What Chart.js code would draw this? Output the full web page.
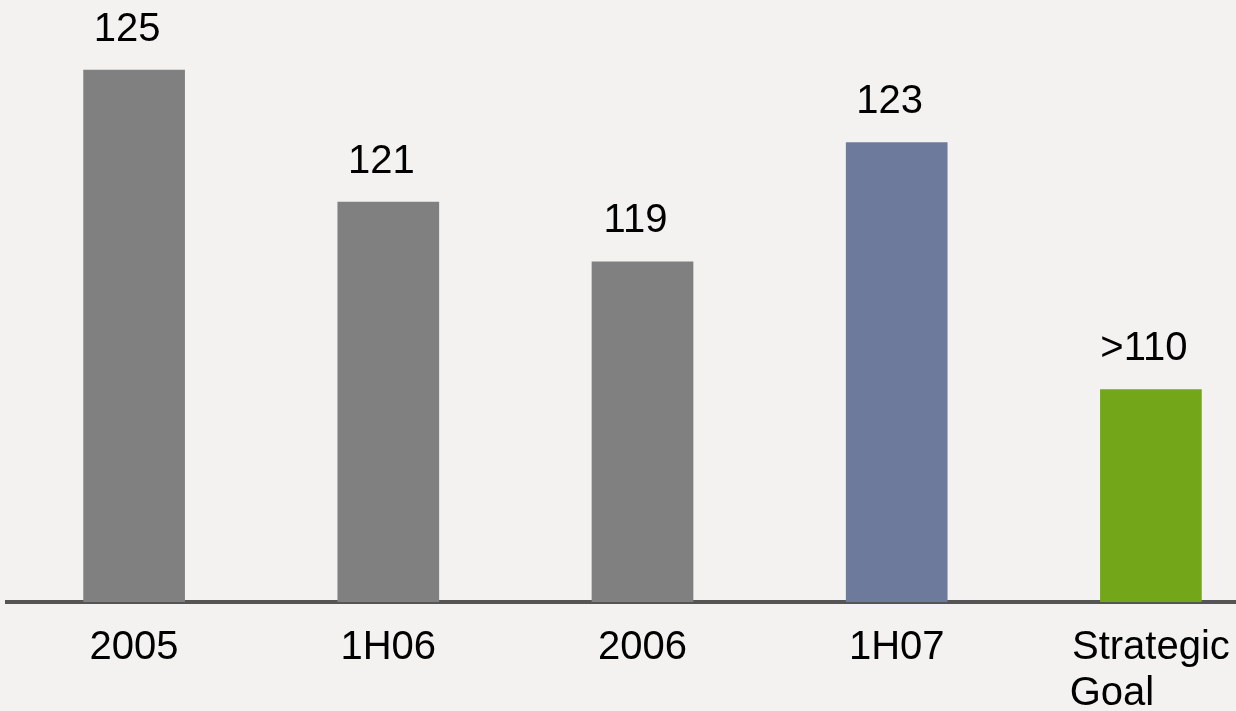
<!DOCTYPE html>
<html>
<head>
<meta charset="utf-8">
<script src="https://cdn.jsdelivr.net/npm/chart.js@4"></script>
<style>
  html, body { margin: 0; padding: 0; background: #f3f2f0; overflow: hidden; }
  canvas { display: block; }
</style>
</head>
<body>
<canvas id="ratioChart" width="1278" height="711"></canvas>
<script>
// categories along the x axis (second label is two lines, padded so "Goal" sits left)
const categories = ['2005', '1H06', '2006', '1H07', ['Strategic', 'Goal       ']];
// printed values above the bars
const valueLabels = ['125', '121', '119', '123', '>110'];
// bar heights as drawn in the picture (the original is not to scale)
const barValues = [125, 118.8, 116.0, 121.6, 110.0];
const barColors = ['#808080', '#808080', '#808080', '#6e7a9c', '#74a61a'];

const fontFamily = "'Liberation Sans', Arial, sans-serif";

// draws the value text above each bar
const valueLabelPlugin = {
    id: 'valueLabels',
    afterDatasetsDraw(chart) {
        const ctx = chart.ctx;
        const meta = chart.getDatasetMeta(0);
        ctx.save();
        ctx.font = '40px ' + fontFamily;
        ctx.fillStyle = '#000';
        ctx.textAlign = 'center';
        ctx.textBaseline = 'alphabetic';
        meta.data.forEach((bar, i) => {
            ctx.fillText(valueLabels[i], bar.x - 7, bar.y - 29);
        });
        ctx.restore();
    }
};

const ctx = document.getElementById('ratioChart').getContext('2d');
const ratioChart = new Chart(ctx, {
    type: 'bar',
    data: {
        labels: categories,
        datasets: [{
            data: barValues,
            backgroundColor: barColors,
            borderWidth: 0,
            categoryPercentage: 1,
            barPercentage: 0.4
        }]
    },
    options: {
        responsive: false,
        animation: false,
        layout: {
            padding: { left: 7, right: 0, top: 6, bottom: 0 }
        },
        plugins: {
            legend: { display: false },
            tooltip: { enabled: false }
        },
        scales: {
            x: {
                z: 1, // axis line on top of the bars
                grid: { display: false, drawTicks: false },
                border: { display: true, color: '#555555', width: 4 },
                ticks: {
                    color: '#000',
                    padding: 23,
                    maxRotation: 0,
                    autoSkip: false,
                    font: { family: fontFamily, size: 40, lineHeight: 1.15 }
                },
                afterFit: function(scale) {
                    scale.height = 109;
                }
            },
            y: {
                display: false,
                min: 100,
                max: 128
            }
        }
    },
    plugins: [valueLabelPlugin]
});
</script>
</body>
</html>
